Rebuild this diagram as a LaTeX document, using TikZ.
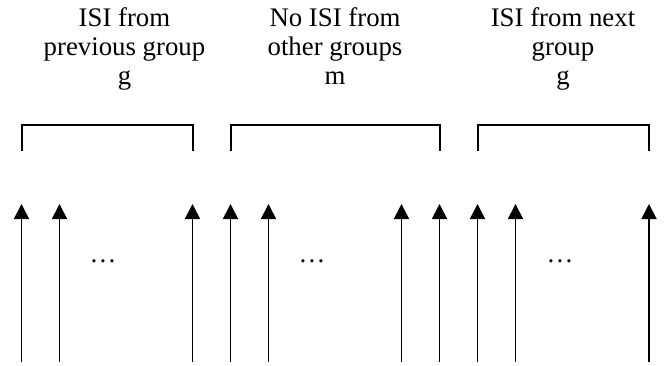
\documentclass[tikz,border=0pt]{standalone}
\usepackage{fontspec}
\setmainfont{Liberation Serif}
\usetikzlibrary{arrows.meta}
\begin{document}
\begin{tikzpicture}[x=1pt,y=-1pt,
  grouplabel/.style={align=center,font=\fontsize{26.8}{29}\selectfont,inner sep=0pt,anchor=north},
  brace/.style={line width=2pt},
  signal/.style={line width=1.8pt,-{Triangle[width=15pt,length=15pt]}},
  gap/.style={font=\fontsize{26.8}{29}\selectfont,inner sep=0pt,anchor=base}]
\useasboundingbox (0,0) rectangle (666,366);

% group captions
\node[grouplabel] (cap1) at (124.5,7) {ISI from\\previous group\\g};
\node[grouplabel] (cap2) at (335,7) {No ISI from\\other groups\\m};
\node[grouplabel] (cap3) at (563,7) {ISI from next\\group\\g};

% brackets spanning each group
\foreach \k/\xl/\xr in {1/21.5/192.5, 2/230.5/439.5, 3/477.5/649} {
  \coordinate (b\k a) at (\xl,151);
  \coordinate (b\k b) at (\xl,125);
  \coordinate (b\k c) at (\xr,125);
  \coordinate (b\k d) at (\xr,151);
  \draw[brace] (b\k a) -- (b\k b) -- (b\k c) -- (b\k d);
}

% sub-channel arrows
\foreach \i/\x in {1/21.5, 2/59.5, 3/192.5, 4/230.5, 5/268.5, 6/401.5, 7/439.5, 8/477.5, 9/515.5, 10/649} {
  \coordinate (s\i) at (\x,362);
  \coordinate (t\i) at (\x,204);
  \draw[signal] (s\i) -- (t\i);
}

% omitted sub-channels
\node[gap] (d1) at (103,262) {…};
\node[gap] (d2) at (312,262) {…};
\node[gap] (d3) at (560,262) {…};
\end{tikzpicture}
\end{document}
